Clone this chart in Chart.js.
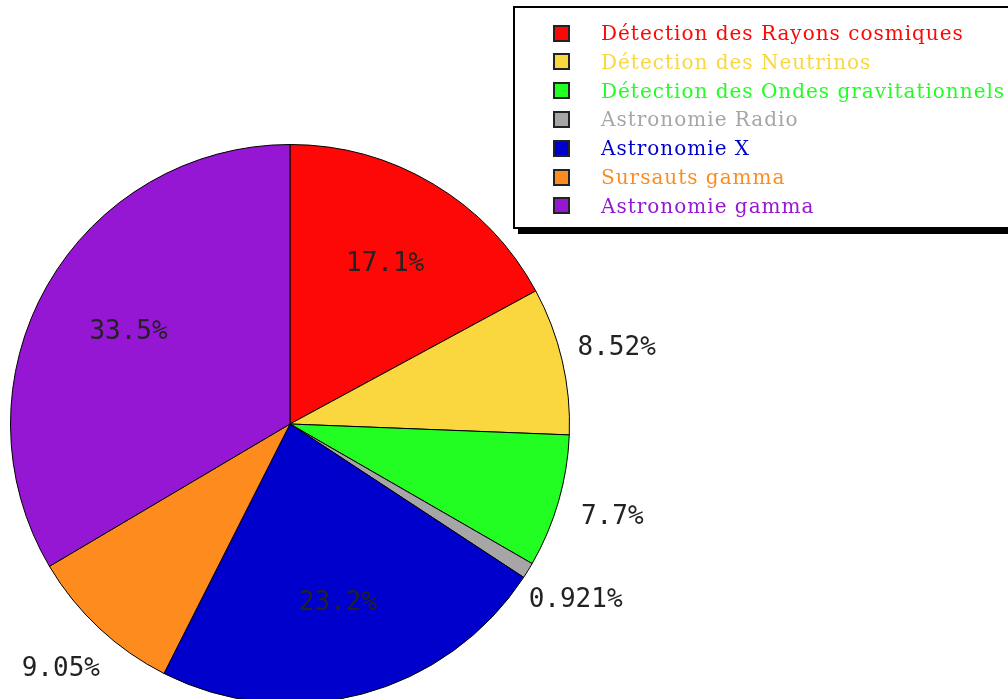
<!DOCTYPE html>
<html>
<head>
<meta charset="utf-8">
<script src="https://cdn.jsdelivr.net/npm/chart.js@4"></script>
<style>
  html, body { margin: 0; padding: 0; background: #fff; overflow: hidden; }
  #wrap { position: relative; width: 1008px; height: 712px; }
  #legend {
    position: absolute; left: 513px; top: 6px; width: 520px; height: 223px;
    border: 2px solid #000; background: #fff; box-shadow: 5px 5px 0 #000;
    box-sizing: border-box;
  }
  .row { position: absolute; left: 38px; height: 20px; display: flex; align-items: center; }
  .sw { width: 17px; height: 17px; border: 2px solid #222; box-sizing: border-box; }
  .lab { position: absolute; left: 48px; white-space: nowrap; font-family: "DejaVu Serif", serif; font-size: 20px; letter-spacing: 1px; }
</style>
</head>
<body>
<div id="wrap">
  <canvas id="pie" width="1008" height="712"></canvas>
  <div id="legend"></div>
</div>
<script>
// categories et valeurs (%)
const categories = ['Détection des Rayons cosmiques', 'Détection des Neutrinos', 'Détection des Ondes gravitationnels',
  'Astronomie Radio', 'Astronomie X', 'Sursauts gamma', 'Astronomie gamma'];
const values = [17.1, 8.52, 7.7, 0.921, 23.2, 9.05, 33.5];
const labels = ['17.1%', '8.52%', '7.7%', '0.921%', '23.2%', '9.05%', '33.5%'];
const colors = ['#fe0707', '#fad73e', '#22fe22', '#a6a6a6', '#0000cc', '#fe8b1d', '#9517d3'];

// legende en HTML
const legend = document.getElementById('legend');
categories.forEach((c, i) => {
    const row = document.createElement('div');
    row.className = 'row';
    row.style.top = (15 + i * 28.8) + 'px';
    row.innerHTML = '<div class="sw" style="background:' + colors[i] + '"></div>' +
        '<span class="lab" style="color:' + colors[i] + '">' + c + '</span>';
    legend.appendChild(row);
});

// etiquettes des parts
const sliceLabels = {
    id: 'sliceLabels',
    afterDatasetsDraw(chart) {
        const ctx = chart.ctx;
        const meta = chart.getDatasetMeta(0);
        ctx.save();
        ctx.font = '26px "DejaVu Sans Mono", monospace';
        ctx.fillStyle = '#222';
        ctx.textAlign = 'center';
        ctx.textBaseline = 'middle';
        meta.data.forEach((arc, i) => {
            const p = arc.getProps(['x', 'y', 'startAngle', 'endAngle', 'outerRadius'], true);
            const mid = (p.startAngle + p.endAngle) / 2;
            const k = values[i] > 15 ? 0.665 : 1.2;
            const x = p.x + Math.cos(mid) * p.outerRadius * k;
            const y = p.y + Math.sin(mid) * p.outerRadius * k;
            ctx.fillText(labels[i], x, y);
        });
        ctx.restore();
    }
};

const ctx = document.getElementById('pie').getContext('2d');
const pieChart = new Chart(ctx, {
    type: 'pie',
    data: {
        labels: categories,
        datasets: [{
            data: values,
            backgroundColor: colors,
            borderColor: '#000',
            borderWidth: 1
        }]
    },
    options: {
        responsive: false,
        animation: false,
        layout: { padding: { left: 10, right: 438, top: 144, bottom: 8 } },
        plugins: { legend: { display: false }, tooltip: { enabled: false } }
    },
    plugins: [sliceLabels]
});
</script>
</body>
</html>
